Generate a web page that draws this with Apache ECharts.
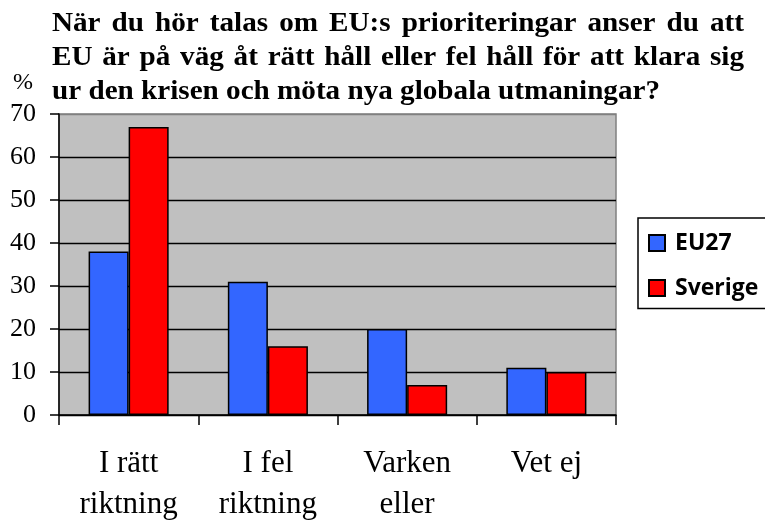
<!DOCTYPE html>
<html><head><meta charset="utf-8">
<script src="https://cdn.jsdelivr.net/npm/echarts@6/dist/echarts.min.js"></script>
<style>html,body{margin:0;padding:0;background:#fff}#c{width:765px;height:521px}</style>
</head><body><div id="c"></div>
<script>
// ---- data ----
const categories = ['I rätt\nriktning', 'I fel\nriktning', 'Varken\neller', 'Vet ej'];
const seriesNames = ['EU27', 'Sverige'];
const eu27 = [38, 31, 20, 11];
const sverige = [67, 16, 7, 10];
const yMin = 0, yMax = 70, yInterval = 10;
const unitLabel = '%';
const titleLines = [
  'När du hör talas om EU:s prioriteringar anser du att',
  'EU är på väg åt rätt håll eller fel håll för att klara sig',
  'ur den krisen och möta nya globala utmaningar?'
];

// ---- title layout (justified lines, slightly stretched serif) ----
const serif = '"Liberation Serif", "Times New Roman", serif';
const tFontSize = 28;
const tFont = 'bold ' + tFontSize + 'px ' + serif;
const ctx = document.createElement('canvas').getContext('2d');
ctx.font = tFont;
const measure = s => ctx.measureText(s).width;
const tLeft = 52, tRight = 744, lastLineWidth = 608;
const sx = lastLineWidth / measure(titleLines[2]);
const lineY = [23.5, 58, 91.5];
const graphics = [];
function addText(txt, x, y, font, scaleX, align) {
  graphics.push({type: 'text', x: x, y: y, scaleX: scaleX || 1,
    style: {text: txt, x: 0, y: 0, font: font, fill: '#000', textAlign: align || 'left', textVerticalAlign: 'middle'}});
}
titleLines.forEach((line, i) => {
  if (i < titleLines.length - 1) {
    const words = line.split(' ');
    const widths = words.map(w => measure(w) * sx);
    const total = widths.reduce((a, b) => a + b, 0);
    const gap = (tRight - tLeft - total) / (words.length - 1);
    let x = tLeft;
    words.forEach((w, k) => { addText(w, x, lineY[i], tFont, sx); x += widths[k] + gap; });
  } else {
    addText(line, tLeft, lineY[i], tFont, sx);
  }
});
addText(unitLabel, 23, 82.5, '24px ' + serif, 1, 'center');

const chart = echarts.init(document.getElementById('c'), null, {renderer: 'canvas'});
const splitColors = [];
for (let v = yMin; v <= yMax; v += yInterval) splitColors.push(v === yMax ? '#808080' : '#000');

chart.setOption({
  animation: false,
  backgroundColor: '#fff',
  graphic: graphics,
  grid: {left: 59, right: 149, top: 114, bottom: 106, show: true, outerBoundsMode: 'none',
    backgroundColor: '#C0C0C0', borderColor: '#808080', borderWidth: 1.5, containLabel: false},
  legend: {
    orient: 'vertical', left: 638, top: 218,
    padding: [13.5, 40, 9, 10],
    icon: 'rect',
    itemWidth: 16, itemHeight: 16, itemGap: 22,
    borderColor: '#000', borderWidth: 1.5, backgroundColor: '#fff',
    textStyle: {fontFamily: '"Open Sans", sans-serif', fontWeight: 'bold', fontSize: 23, lineHeight: 22, color: '#000', padding: [0, 0, 0, 5]},
    data: seriesNames
  },
  xAxis: {
    type: 'category', data: categories,
    axisLine: {lineStyle: {color: '#000', width: 1.5}},
    axisTick: {show: true, length: 10, lineStyle: {color: '#000', width: 1.5}},
    axisLabel: {fontFamily: serif, fontSize: 31, lineHeight: 41, color: '#000', margin: 28, interval: 0}
  },
  yAxis: {
    type: 'value', min: yMin, max: yMax, interval: yInterval,
    axisLine: {show: true, lineStyle: {color: '#000', width: 1.5}},
    axisTick: {show: true, length: 9, lineStyle: {color: '#000', width: 1.5}},
    axisLabel: {fontFamily: serif, fontSize: 26, color: '#000', margin: 23},
    splitLine: {show: true, lineStyle: {color: splitColors, width: 1.3}}
  },
  series: [
    {name: seriesNames[0], type: 'bar', data: eu27, barGap: '0%', barCategoryGap: '42.5%',
      itemStyle: {color: '#3366FF', borderColor: '#000', borderWidth: 1.5}},
    {name: seriesNames[1], type: 'bar', data: sverige, barGap: '0%', barCategoryGap: '42.5%',
      itemStyle: {color: '#FF0000', borderColor: '#000', borderWidth: 1.5}}
  ]
});
</script>
</body></html>
